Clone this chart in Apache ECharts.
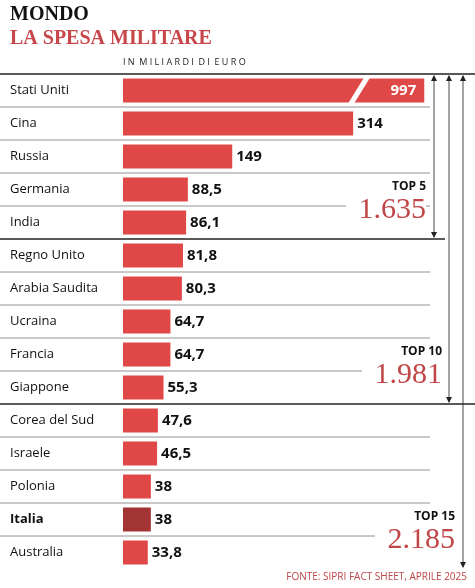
<!DOCTYPE html><html><head><meta charset="utf-8"><script src="https://cdn.jsdelivr.net/npm/echarts@6/dist/echarts.min.js"></script>
<style>body{margin:0}#c{width:475px;height:588px}</style></head><body><div id="c"></div><script>
const categories=["Stati Uniti","Cina","Russia","Germania","India","Regno Unito","Arabia Saudita","Ucraina","Francia","Giappone","Corea del Sud","Israele","Polonia","Italia","Australia"];
const values=[997,314,149,88.5,86.1,81.8,80.3,64.7,64.7,55.3,47.6,46.5,38,38,33.8];
const labels=["997","314","149","88,5","86,1","81,8","80,3","64,7","64,7","55,3","47,6","46,5","38","38","33,8"];
const totals=[["TOP 5","1.635"],["TOP 10","1.981"],["TOP 15","2.185"]];
const CAP=411;
const chart=echarts.init(document.getElementById('c'));
const TOP=74,RH=33,L=123,SC=0.733;
const red='#e04848',serif='"Liberation Serif","DejaVu Serif",serif',sans='"Open Sans","Noto Sans",sans-serif';
const data=values.map((v,i)=>({value:Math.min(v,CAP),itemStyle:{color:categories[i]==='Italia'?'#a33434':red},
 label:i===0?{position:'insideRight',color:'#fff',distance:8}:{}}));
const g=[];
g.push({type:'text',left:10,top:5,style:{text:'MONDO',font:'bold 20px '+serif,fill:'#111'}});
g.push({type:'text',left:10,top:29,style:{text:'LA SPESA MILITARE',font:'bold 20px '+serif,fill:'#c8474a'}});
g.push({type:'text',left:123,top:58,style:{text:'I N  M I L I A R D I  D I  E U R O',font:'9px '+sans,fill:'#222'}});
for(let i=0;i<15;i++){
 const y=TOP+i*RH;const thick=(i%5===0);
 const x2=i===0?475:(i===5?445:i===10?475:430);
 g.push({type:'line',shape:{x1:0,y1:y,x2:x2,y2:y},style:{stroke:thick?'#222':'#777',lineWidth:thick?1.6:0.8}});
}
[[434,5],[449,10],[463,15]].forEach(([x,n])=>{
 const y2=TOP+n*RH;
 g.push({type:'line',shape:{x1:x,y1:TOP+2,x2:x,y2:y2-2},style:{stroke:'#333',lineWidth:0.9}});
 g.push({type:'polygon',shape:{points:[[x-3,TOP+7],[x+3,TOP+7],[x,TOP+1]]},style:{fill:'#222'}});
 g.push({type:'polygon',shape:{points:[[x-3,y2-7],[x+3,y2-7],[x,y2-1]]},style:{fill:'#222'}});
});
totals.forEach(([t,v],k)=>{
 const yb=TOP+(k+1)*5*RH;const xr=[426,442,455][k];
 g.push({type:'text',right:475-xr,top:yb-58,style:{text:t,font:'bold 12px '+sans,fill:'#111',align:'right'}});
 g.push({type:'rect',shape:{x:xr-80,y:yb-42,width:80,height:34},style:{fill:'#fff'}});
 g.push({type:'text',right:475-xr,top:yb-44,style:{text:v,font:'30px '+serif,fill:'#c04648',align:'right'}});
});
g.push({type:'text',right:8,top:572,style:{text:'FONTE: SIPRI FACT SHEET, APRILE 2025',font:'10px '+sans,fill:'#c04648'}});
chart.setOption({animation:false,
 grid:{left:L,top:TOP,height:15*RH,width:500*SC,outerBoundsMode:'none',containLabel:false},
 xAxis:{type:'value',min:0,max:500,show:false},
 yAxis:{type:'category',data:categories,inverse:true,axisLine:{show:false},axisTick:{show:false},
  axisLabel:{align:'left',margin:113,fontFamily:sans,fontSize:13,color:'#111',
   formatter:v=>v==='Italia'?'{b|'+v+'}':v,rich:{b:{fontWeight:'bold',fontFamily:sans,fontSize:13,color:'#111'}}}},
 series:[{type:'bar',data:data,barWidth:24,
  label:{show:true,position:'right',distance:4,fontFamily:sans,fontWeight:'bold',fontSize:15,color:'#111',formatter:p=>labels[p.dataIndex]}}],
 graphic:g});
const p1=chart.convertToPixel({xAxisIndex:0,yAxisIndex:0},[318,0]);
const y=p1[1];
g.push({type:'polygon',z:100,shape:{points:[[p1[0]+8,y-13],[p1[0]+14,y-13],[p1[0]-2,y+13],[p1[0]-8,y+13]]},style:{fill:'#fff'}});
chart.setOption({graphic:g});
</script></body></html>
